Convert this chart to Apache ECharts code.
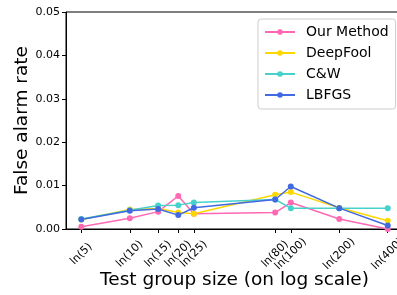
<!DOCTYPE html>
<html>
<head>
<meta charset="utf-8">
<script src="https://cdn.jsdelivr.net/npm/echarts@6/dist/echarts.min.js"></script>
<style>
  html, body { margin: 0; padding: 0; background: #fff; }
  #chart { width: 397px; height: 295px; }
</style>
</head>
<body>
<div id="chart"></div>
<script>
// test group sizes (x axis is ln of these)
var groupSizes = [5, 10, 15, 20, 25, 80, 100, 200, 400];
var ourMethod = [0.0005, 0.0025, 0.0040, 0.0076, 0.0035, 0.0038, 0.0061, 0.0023, 0.0000];
var deepFool  = [0.0022, 0.0045, 0.0047, 0.0038, 0.0035, 0.0079, 0.0085, 0.0049, 0.0019];
var cw        = [0.0023, 0.0043, 0.0054, 0.0055, 0.0061, 0.0068, 0.0048, 0.0048, 0.0048];
var lbfgs     = [0.0022, 0.0042, 0.0046, 0.0032, 0.0049, 0.0068, 0.0098, 0.0048, 0.0008];
var yTicks = [0, 0.01, 0.02, 0.03, 0.04, 0.05];

var font = 'DejaVu Sans';
var chart = echarts.init(document.getElementById('chart'));

function pts(vals) {
    return groupSizes.map(function (n, i) { return [Math.log(n), vals[i]]; });
}
function mkSeries(name, vals, color) {
    return {
        name: name,
        type: 'line',
        data: pts(vals),
        symbol: 'circle',
        symbolSize: 6,
        itemStyle: {color: color},
        lineStyle: {color: color, width: 1.5},
        animation: false
    };
}

var xTickVals = groupSizes.map(function (n) { return Math.log(n); });

var option = {
    animation: false,
    grid: {
        left: 66, top: 12, width: 337, height: 217,
        outerBoundsMode: 'none', containLabel: false,
        show: true, borderColor: '#000', borderWidth: 1
    },
    legend: {
        orient: 'vertical',
        left: 258,
        top: 19,
        itemWidth: 30,
        itemHeight: 7,
        itemGap: 7,
        padding: [6, 7, 7, 6],
        borderColor: '#ccc',
        borderWidth: 1,
        borderRadius: 3,
        backgroundColor: 'rgba(255,255,255,0.8)',
        textStyle: {fontFamily: font, fontSize: 14, color: '#000', padding: [0, 0, 0, 6]},
        data: ['Our Method', 'DeepFool', 'C&W', 'LBFGS']
    },
    xAxis: {
        type: 'value',
        min: 1.39,
        max: 6.21,
        name: 'Test group size (on log scale)',
        nameLocation: 'middle',
        nameGap: 42,
        nameMoveOverlap: false,
        nameTextStyle: {fontFamily: font, fontSize: 18.5, color: '#000'},
        splitLine: {show: false},
        axisLine: {lineStyle: {color: '#000'}},
        axisTick: {customValues: xTickVals, length: 4, lineStyle: {color: '#000'}},
        axisLabel: {
            customValues: xTickVals,
            rotate: 45,
            align: 'center',
            verticalAlign: 'middle',
            margin: 25,
            fontFamily: font,
            fontSize: 11,
            color: '#000',
            formatter: function (v) { return 'ln(' + Math.round(Math.exp(v)) + ')'; }
        }
    },
    yAxis: {
        type: 'value',
        min: yTicks[0],
        max: yTicks[yTicks.length - 1],
        interval: 0.01,
        name: 'False alarm rate',
        nameLocation: 'middle',
        nameGap: 34,
        nameMoveOverlap: false,
        nameTextStyle: {fontFamily: font, fontSize: 18.5, color: '#000'},
        splitLine: {show: false},
        axisLine: {lineStyle: {color: '#000'}},
        axisTick: {length: 4, lineStyle: {color: '#000'}},
        axisLabel: {
            margin: 6,
            fontFamily: font,
            fontSize: 11,
            color: '#000',
            formatter: function (v) { return v.toFixed(2); }
        }
    },
    series: [
        mkSeries('Our Method', ourMethod, '#ff69b4'),
        mkSeries('DeepFool', deepFool, '#ffd700'),
        mkSeries('C&W', cw, '#48d1cc'),
        mkSeries('LBFGS', lbfgs, '#4169e1')
    ]
};

chart.setOption(option);
</script>
</body>
</html>
